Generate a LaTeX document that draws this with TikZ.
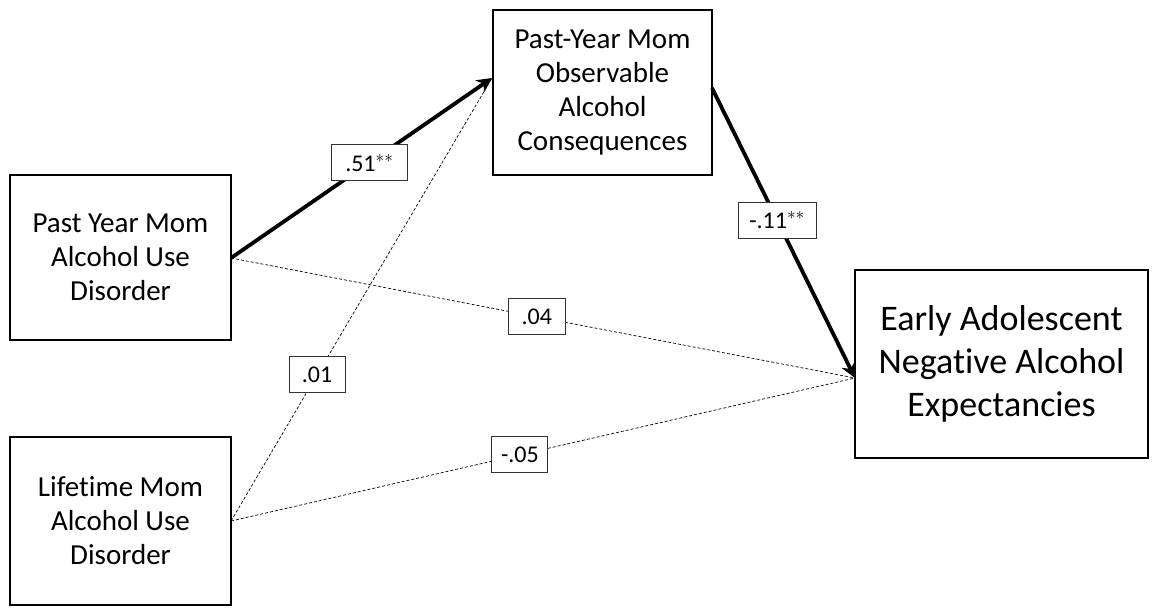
\documentclass[tikz,border=0pt]{standalone}
\usepackage{fontspec}
\setmainfont[Ligatures=NoCommon]{Carlito}
\usetikzlibrary{arrows.meta}
\begin{document}
\begin{tikzpicture}[x=1pt,y=-1pt,
  varbox/.style={draw, line width=1.2pt, align=center, inner sep=0pt, font=\fontsize{29}{34}\selectfont},
  coefbox/.style={draw=black!80, solid, line width=0.9pt, fill=white, inner sep=0pt, minimum height=36pt, font=\fontsize{24}{26}\selectfont},
  strong/.style={line width=3.8pt, -{Stealth[length=15pt,width=15pt]}},
  weak/.style={line width=0.7pt, dash pattern=on 3pt off 2pt}]
\useasboundingbox (0,0) rectangle (1158,608);
\node[varbox, minimum width=221pt, minimum height=165pt] (A) at (120.5,257.5) {Past Year Mom\\Alcohol Use\\Disorder};
\node[varbox, minimum width=221pt, minimum height=168pt] (B) at (120.5,521) {Lifetime Mom\\Alcohol Use\\Disorder};
\node[varbox, minimum width=219pt, minimum height=165pt] (M) at (602.5,92.5) {Past-Year Mom\\Observable\\Alcohol\\Consequences};
\node[varbox, minimum width=293pt, minimum height=188pt, font=\fontsize{36}{43}\selectfont] (Y) at (1001.5,364) {Early Adolescent\\Negative Alcohol\\Expectancies};
\coordinate (Ae) at (231,258);
\coordinate (Be) at (231,521);
\coordinate (Mw) at (492,78);
\coordinate (Me) at (712,88);
\coordinate (Yw) at (855,378);
\draw[weak] (Ae) -- (Yw) node[coefbox, minimum width=57pt, pos=0.49] (c04) {.04};
\draw[weak] (Be) -- (Mw) node[coefbox, minimum width=56pt, pos=0.33] (c01) {.01};
\draw[weak] (Be) -- (Yw) node[coefbox, minimum width=56pt, pos=0.463] (c05) {-.05};
\draw[strong] (Ae) -- (Mw) node[coefbox, minimum width=76pt, pos=0.53] (c51) {.51$^{**}$};
\draw[strong] (Me) -- (Yw) node[coefbox, minimum width=78pt, pos=0.455] (c11) {-.11$^{**}$};
\end{tikzpicture}
\end{document}
